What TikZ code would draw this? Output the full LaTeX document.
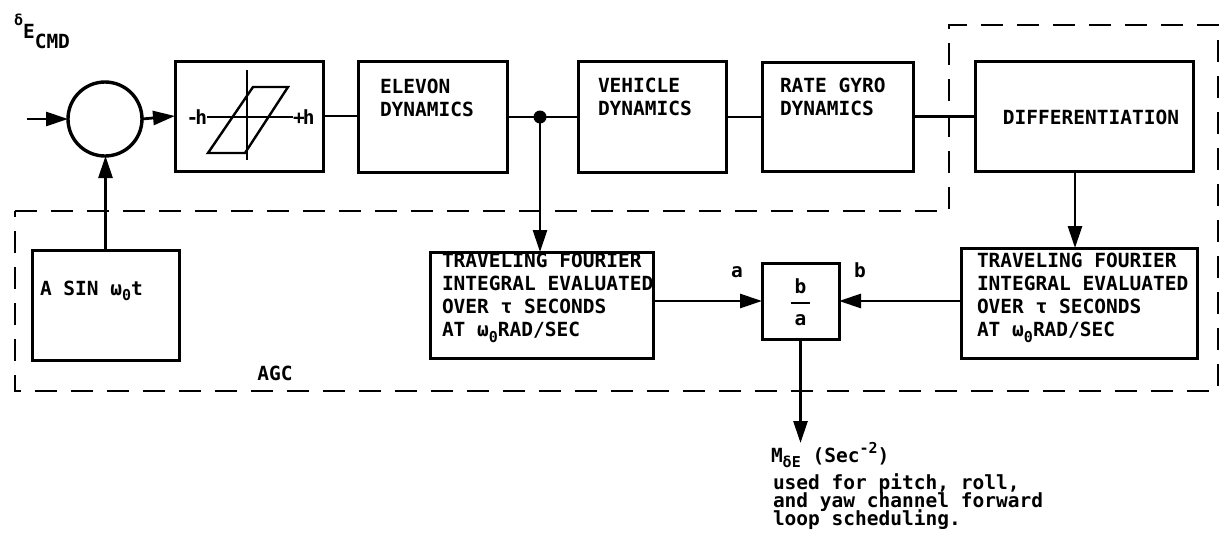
\documentclass[tikz,border=0pt]{standalone}
\usepackage{fontspec}
\setmainfont{DejaVu Sans Mono}
\usetikzlibrary{arrows.meta}
\newcommand\fmain{\fontsize{19.5}{23}\selectfont\bfseries}
\newcommand\fsm{\fontsize{15}{15}\selectfont\bfseries}
\newcommand\fuse{\fontsize{19.5}{18}\selectfont\bfseries\lineskiplimit -100pt\relax}
\newcommand\lo[1]{\raisebox{-0.55ex}{\fsm #1}}
\newcommand\hi[1]{\raisebox{0.8ex}{\fsm #1}}
\begin{document}
\begin{tikzpicture}[x=1pt,y=-1pt,
  blk/.style={draw, line width=3pt, inner sep=0pt, outer sep=0pt},
  txt/.style={inner sep=0pt, outer sep=0pt, align=left, font=\fmain},
  wire/.style={line width=2.8pt},
  arr/.style={wire, -{Triangle[length=22pt,width=14pt]}},
  agc/.style={line width=2.8pt, dash pattern=on 22pt off 14pt},
  thin/.style={line width=2.4pt}
]
\useasboundingbox (0,0) rectangle (1229,557);

% blocks
\node[blk, circle, minimum size=74pt, line width=3.4pt] (sum) at (105,119) {};
\node[blk, minimum width=148pt, minimum height=110pt] (hyst) at (249,116) {};
\node[blk, minimum width=149pt, minimum height=111pt] (elev) at (432.5,117) {};
\node[blk, minimum width=148pt, minimum height=111pt] (veh) at (652,117) {};
\node[blk, minimum width=151pt, minimum height=109pt] (gyro) at (837.5,116.5) {};
\node[blk, minimum width=218pt, minimum height=110pt] (diff) at (1084,116) {};
\node[blk, minimum width=147pt, minimum height=110pt] (sinb) at (105.5,305) {};
\node[blk, minimum width=223pt, minimum height=106pt] (tfa) at (541.5,305) {};
\node[blk, minimum width=77pt, minimum height=76pt] (ratio) at (800.5,301) {};
\node[blk, minimum width=236pt, minimum height=110pt] (tfb) at (1079,303) {};

% AGC boundary
\draw[agc] (15,211) -- (949,211) -- (949,25) -- (1218,25) -- (1218,391) -- (15,391) -- cycle;

% hysteresis symbol
\draw[thin] (207,117) -- (293,117);
\draw[thin] (247,70) -- (247,160);
\draw[thin] (208,153) -- (245,153) -- (288,87) -- (253,87) -- cycle;
\node[txt, anchor=east] (mh) at (207,117) {-\kern-3pt h};
\node[txt, anchor=west] (ph) at (293,117) {+\kern-2pt h};

% texts
\node[txt, anchor=base west] (dcmd) at (14,25) {\fsm δ\raisebox{-13pt}{\fmain E\raisebox{-10pt}{CMD}}};
\node[txt, anchor=north west] (telev) at (380,79) {ELEVON\\DYNAMICS};
\node[txt, anchor=north west] (tveh) at (598,78) {VEHICLE\\DYNAMICS};
\node[txt, anchor=north west] (tgyro) at (780,78) {RATE GYRO\\DYNAMICS};
\node[txt] (tdiff) at (1091,117) {DIFFERENTIATION};
\node[txt, anchor=base west] (tsin) at (40,295) {A SIN ω\lo{0}t};
\node[txt, anchor=north west] (ttfa) at (442,253) {TRAVELING FOURIER\\INTEGRAL EVALUATED\\OVER τ SECONDS\\AT ω\lo{0}RAD/SEC};
\node[txt, anchor=north west] (ttfb) at (977,253) {TRAVELING FOURIER\\INTEGRAL EVALUATED\\OVER τ SECONDS\\AT ω\lo{0}RAD/SEC};
\node[txt] (fb) at (800.5,286) {b};
\node[txt] (fa) at (800.5,320) {a};
\draw[thin] (791,303) -- (810,303);
\node[txt] (la) at (737,272) {a};
\node[txt] (lb) at (860,270) {b};
\node[txt] (agclab) at (275,373) {AGC};
\node[txt, anchor=base west] (mlab) at (771,462) {M\lo{δE} (Sec\hi{-2})};
\node[txt, anchor=north west, font=\fuse] (use) at (773,474) {used for pitch, roll,\\and yaw channel forward\\loop scheduling.};

% connectors
\coordinate (in) at (27,119);
\coordinate (j) at (540,117);
\coordinate (out) at (800.5,443);
\draw[arr] (in) -- (sum.west);
\draw[arr] (sum.east) -- (hyst.west);
\draw[wire] (hyst.east) -- (hyst.east -| elev.west);
\draw[wire] (elev.east) -- (elev.east -| veh.west);
\draw[wire] (veh.east) -- (veh.east -| gyro.west);
\draw[wire] (gyro.east) -- (gyro.east -| diff.west);
\fill (j) circle (6.5pt);
\draw[arr] (j) -- (j |- tfa.north);
\draw[arr] (sinb.north) -- (sinb.north |- sum.south);
\draw[arr] ([xshift=-9pt]diff.south) -- ([xshift=-9pt]diff.south |- tfb.north);
\draw[arr] (tfa.east |- ratio.west) -- (ratio.west);
\draw[arr] (tfb.west |- ratio.east) -- (ratio.east);
\draw[arr] (ratio.south) -- (out);
\end{tikzpicture}
\end{document}
